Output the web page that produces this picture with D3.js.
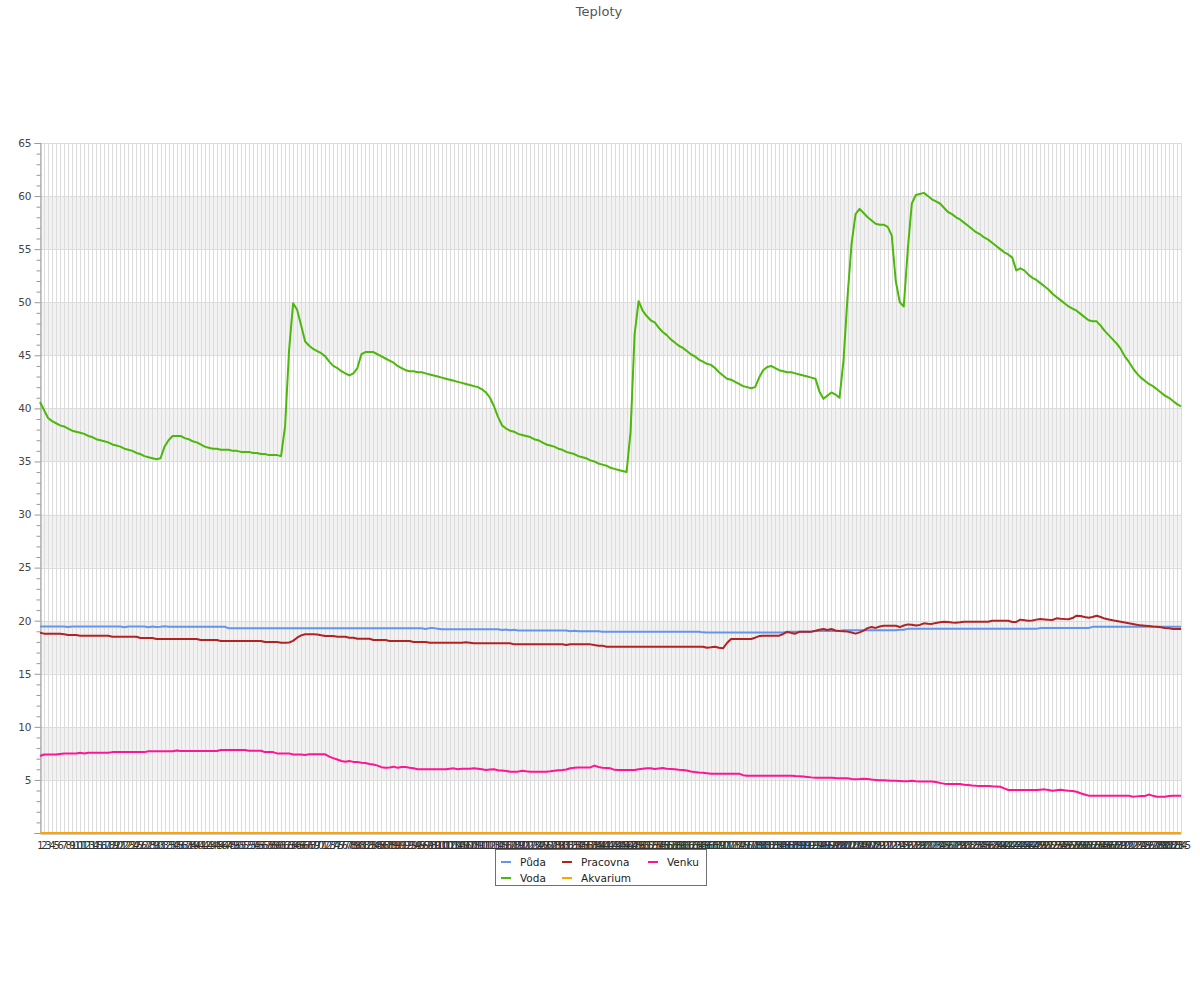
<!DOCTYPE html>
<html><head><meta charset="utf-8">
<script src="https://cdn.jsdelivr.net/npm/d3@7"></script>
<style>body{margin:0;background:#fff}svg{display:block}</style>
</head><body><svg id="c" width="1200" height="1000"></svg>
<script>
const title = "Teploty";
const categories = d3.range(1, 286).map(String);
const yTickValues = [5, 10, 15, 20, 25, 30, 35, 40, 45, 50, 55, 60, 65];
const seriesNames = ["Půda", "Voda", "Pracovna", "Akvarium", "Venku"];
const seriesColors = ["#6495ed", "#4cb80a", "#b22222", "#ffa500", "#ff1493"];

const puda = [
19.45,19.45,19.45,19.45,19.45,19.45,19.45,19.40,19.45,19.45,
19.45,19.45,19.45,19.45,19.45,19.45,19.45,19.45,19.45,19.45,
19.45,19.38,19.45,19.45,19.45,19.45,19.45,19.38,19.45,19.40,
19.42,19.48,19.43,19.43,19.43,19.43,19.43,19.43,19.43,19.43,
19.43,19.43,19.43,19.43,19.43,19.43,19.43,19.28,19.28,19.28,
19.28,19.28,19.28,19.28,19.28,19.28,19.28,19.28,19.28,19.28,
19.28,19.28,19.28,19.28,19.28,19.28,19.28,19.28,19.28,19.28,
19.28,19.28,19.28,19.28,19.28,19.28,19.28,19.28,19.28,19.28,
19.28,19.28,19.28,19.28,19.28,19.28,19.28,19.28,19.28,19.28,
19.28,19.28,19.28,19.28,19.28,19.28,19.22,19.30,19.30,19.25,
19.20,19.20,19.20,19.20,19.20,19.20,19.20,19.20,19.20,19.20,
19.20,19.20,19.20,19.20,19.20,19.12,19.18,19.10,19.15,19.08,
19.08,19.08,19.08,19.08,19.08,19.08,19.08,19.08,19.08,19.08,
19.08,19.08,19.00,19.05,19.00,19.00,19.00,19.00,19.00,19.00,
18.95,18.95,18.95,18.95,18.95,18.95,18.95,18.95,18.95,18.95,
18.95,18.95,18.95,18.95,18.95,18.95,18.95,18.95,18.95,18.95,
18.95,18.95,18.95,18.95,18.95,18.90,18.88,18.88,18.88,18.88,
18.88,18.88,18.88,18.88,18.88,18.88,18.88,18.88,18.88,18.88,
18.88,18.88,18.88,18.88,18.88,18.88,18.96,18.96,18.96,18.96,
18.96,18.96,18.96,19.02,19.02,19.02,19.02,19.02,19.02,19.02,
19.10,19.10,19.10,19.10,19.10,19.10,19.10,19.10,19.10,19.10,
19.10,19.10,19.10,19.10,19.15,19.15,19.23,19.23,19.23,19.23,
19.23,19.23,19.23,19.23,19.23,19.23,19.23,19.23,19.23,19.23,
19.23,19.23,19.23,19.23,19.23,19.23,19.23,19.23,19.23,19.23,
19.23,19.23,19.23,19.23,19.23,19.23,19.23,19.23,19.23,19.32,
19.32,19.32,19.32,19.32,19.32,19.32,19.32,19.32,19.32,19.32,
19.32,19.32,19.42,19.42,19.42,19.42,19.42,19.42,19.42,19.42,
19.42,19.42,19.42,19.42,19.42,19.42,19.42,19.42,19.42,19.42,
19.42,19.42,19.42,19.42,19.42];

const voda = [
40.6,39.85,39.1,38.8,38.6,38.4,38.3,38.1,37.9,37.8,
37.7,37.6,37.4,37.3,37.1,37.0,36.9,36.8,36.6,36.5,
36.4,36.2,36.1,36.0,35.8,35.7,35.5,35.4,35.3,35.2,
35.3,36.4,37.0,37.4,37.4,37.4,37.2,37.1,36.9,36.8,
36.6,36.4,36.3,36.2,36.2,36.1,36.1,36.1,36.0,36.0,
35.9,35.9,35.9,35.8,35.8,35.7,35.7,35.6,35.6,35.6,
35.5,38.3,45.5,49.9,49.3,47.8,46.3,45.9,45.6,45.4,
45.2,44.9,44.4,44.0,43.8,43.5,43.3,43.1,43.3,43.8,
45.1,45.3,45.3,45.3,45.1,44.9,44.7,44.5,44.3,44.0,
43.8,43.6,43.5,43.5,43.4,43.4,43.3,43.2,43.1,43.0,
42.9,42.8,42.7,42.6,42.5,42.4,42.3,42.2,42.1,42.0,
41.8,41.5,41.0,40.2,39.2,38.4,38.1,37.9,37.8,37.6,
37.5,37.4,37.3,37.1,37.0,36.8,36.6,36.5,36.4,36.2,
36.1,35.9,35.8,35.7,35.5,35.4,35.3,35.1,35.0,34.8,
34.7,34.6,34.4,34.3,34.2,34.1,34.0,37.8,47.0,50.1,
49.2,48.7,48.3,48.1,47.6,47.2,46.9,46.5,46.2,45.9,
45.7,45.4,45.1,44.9,44.6,44.4,44.2,44.1,43.8,43.4,
43.1,42.8,42.7,42.5,42.3,42.1,42.0,41.9,42.0,42.9,
43.6,43.9,44.0,43.8,43.6,43.5,43.4,43.4,43.3,43.2,
43.1,43.0,42.9,42.8,41.6,40.9,41.2,41.5,41.3,41.0,
44.5,50.5,55.5,58.3,58.8,58.4,58.0,57.7,57.4,57.3,
57.3,57.1,56.3,52.0,50.0,49.6,55.0,59.3,60.1,60.2,
60.3,60.0,59.7,59.5,59.3,58.9,58.5,58.3,58.0,57.8,
57.5,57.2,56.9,56.6,56.4,56.1,55.9,55.6,55.3,55.0,
54.7,54.5,54.2,53.0,53.2,53.0,52.6,52.3,52.1,51.8,
51.5,51.2,50.8,50.5,50.2,49.9,49.6,49.4,49.2,48.9,
48.6,48.3,48.2,48.2,47.8,47.3,46.9,46.5,46.1,45.6,
44.9,44.4,43.8,43.3,42.9,42.6,42.3,42.1,41.8,41.5,
41.2,41.0,40.7,40.4,40.2];

const pracovna = [
18.87,18.78,18.78,18.78,18.78,18.78,18.72,18.65,18.65,18.65,
18.59,18.59,18.59,18.59,18.59,18.59,18.59,18.59,18.49,18.49,
18.49,18.49,18.49,18.49,18.49,18.37,18.37,18.37,18.37,18.28,
18.28,18.28,18.28,18.28,18.28,18.28,18.28,18.28,18.28,18.28,
18.18,18.18,18.18,18.18,18.18,18.09,18.09,18.09,18.09,18.09,
18.09,18.09,18.09,18.09,18.09,18.09,18.00,18.00,18.00,18.00,
17.93,17.93,17.95,18.10,18.40,18.62,18.72,18.72,18.72,18.70,
18.62,18.55,18.55,18.55,18.49,18.49,18.49,18.40,18.40,18.30,
18.30,18.30,18.30,18.18,18.18,18.18,18.18,18.09,18.09,18.09,
18.09,18.09,18.09,18.00,18.00,18.00,18.00,17.93,17.93,17.93,
17.93,17.93,17.93,17.93,17.93,17.93,17.98,17.93,17.87,17.87,
17.87,17.87,17.87,17.87,17.87,17.87,17.87,17.87,17.77,17.77,
17.77,17.77,17.77,17.77,17.77,17.77,17.77,17.77,17.77,17.77,
17.77,17.72,17.77,17.77,17.77,17.77,17.77,17.77,17.70,17.65,
17.65,17.55,17.55,17.55,17.55,17.55,17.55,17.55,17.55,17.55,
17.55,17.55,17.55,17.55,17.55,17.55,17.55,17.55,17.55,17.55,
17.55,17.55,17.55,17.55,17.55,17.55,17.46,17.50,17.55,17.45,
17.40,17.90,18.28,18.28,18.28,18.28,18.28,18.28,18.40,18.55,
18.59,18.59,18.59,18.59,18.59,18.75,18.94,18.85,18.78,18.95,
18.97,18.97,18.97,19.05,19.15,19.22,19.12,19.22,19.08,19.03,
19.00,18.97,18.88,18.78,18.90,19.06,19.30,19.40,19.32,19.45,
19.53,19.53,19.53,19.53,19.40,19.55,19.65,19.62,19.55,19.60,
19.75,19.72,19.70,19.78,19.85,19.90,19.88,19.83,19.81,19.85,
19.90,19.90,19.90,19.90,19.90,19.90,19.90,20.00,20.00,20.00,
20.00,20.00,19.88,19.88,20.10,20.05,20.00,20.02,20.10,20.16,
20.12,20.08,20.07,20.22,20.18,20.15,20.13,20.25,20.47,20.44,
20.35,20.28,20.35,20.47,20.35,20.20,20.12,20.04,19.97,19.90,
19.83,19.76,19.69,19.62,19.56,19.53,19.50,19.46,19.43,19.38,
19.32,19.28,19.22,19.22,19.22];

const akvarium = [
0,0,0,0,0,0,0,0,0,0, 0,0,0,0,0,0,0,0,0,0, 0,0,0,0,0,0,0,0,0,0,
0,0,0,0,0,0,0,0,0,0, 0,0,0,0,0,0,0,0,0,0, 0,0,0,0,0,0,0,0,0,0,
0,0,0,0,0,0,0,0,0,0, 0,0,0,0,0,0,0,0,0,0, 0,0,0,0,0,0,0,0,0,0,
0,0,0,0,0,0,0,0,0,0, 0,0,0,0,0,0,0,0,0,0, 0,0,0,0,0,0,0,0,0,0,
0,0,0,0,0,0,0,0,0,0, 0,0,0,0,0,0,0,0,0,0, 0,0,0,0,0,0,0,0,0,0,
0,0,0,0,0,0,0,0,0,0, 0,0,0,0,0,0,0,0,0,0, 0,0,0,0,0,0,0,0,0,0,
0,0,0,0,0,0,0,0,0,0, 0,0,0,0,0,0,0,0,0,0, 0,0,0,0,0,0,0,0,0,0,
0,0,0,0,0,0,0,0,0,0, 0,0,0,0,0,0,0,0,0,0, 0,0,0,0,0,0,0,0,0,0,
0,0,0,0,0,0,0,0,0,0, 0,0,0,0,0,0,0,0,0,0, 0,0,0,0,0,0,0,0,0,0,
0,0,0,0,0,0,0,0,0,0, 0,0,0,0,0];

const venku = [
7.25,7.40,7.40,7.40,7.40,7.45,7.50,7.50,7.50,7.50,
7.55,7.48,7.55,7.55,7.55,7.55,7.55,7.55,7.62,7.62,
7.62,7.62,7.62,7.62,7.62,7.62,7.62,7.70,7.70,7.70,
7.70,7.70,7.70,7.70,7.78,7.72,7.72,7.72,7.72,7.72,
7.72,7.72,7.72,7.72,7.72,7.82,7.82,7.82,7.82,7.82,
7.82,7.82,7.75,7.75,7.75,7.75,7.62,7.62,7.62,7.50,
7.50,7.50,7.50,7.40,7.40,7.40,7.35,7.41,7.41,7.41,
7.41,7.41,7.20,7.05,6.92,6.78,6.72,6.78,6.70,6.70,
6.62,6.60,6.50,6.45,6.35,6.20,6.15,6.18,6.25,6.15,
6.22,6.22,6.15,6.10,6.00,6.00,6.00,6.00,6.00,6.00,
6.00,6.00,6.05,6.09,6.00,6.05,6.05,6.05,6.09,6.05,
6.00,5.93,5.98,6.00,5.92,5.88,5.84,5.78,5.78,5.78,
5.87,5.82,5.78,5.78,5.78,5.78,5.78,5.82,5.87,5.90,
5.93,5.98,6.10,6.15,6.18,6.18,6.18,6.18,6.35,6.22,
6.15,6.12,6.09,5.95,5.93,5.93,5.93,5.93,5.93,6.00,
6.05,6.09,6.09,6.03,6.08,6.12,6.05,6.03,6.00,5.96,
5.93,5.88,5.80,5.74,5.70,5.67,5.63,5.59,5.59,5.59,
5.59,5.59,5.59,5.59,5.59,5.45,5.40,5.40,5.40,5.40,
5.40,5.40,5.40,5.40,5.40,5.40,5.40,5.40,5.36,5.34,
5.32,5.28,5.24,5.21,5.21,5.21,5.21,5.21,5.17,5.15,
5.15,5.15,5.08,5.06,5.08,5.12,5.08,5.03,5.00,4.97,
4.97,4.95,4.93,4.92,4.90,4.88,4.87,4.93,4.88,4.85,
4.85,4.85,4.85,4.80,4.72,4.65,4.62,4.62,4.62,4.62,
4.55,4.52,4.48,4.45,4.43,4.43,4.43,4.40,4.38,4.36,
4.20,4.05,4.05,4.05,4.05,4.05,4.05,4.05,4.05,4.08,
4.11,4.05,3.98,4.03,4.08,4.02,3.98,3.96,3.88,3.74,
3.62,3.52,3.52,3.52,3.52,3.52,3.52,3.52,3.52,3.52,
3.52,3.52,3.42,3.45,3.48,3.49,3.62,3.50,3.42,3.42,
3.42,3.48,3.52,3.52,3.52];

const seriesData = [puda, voda, pracovna, akvarium, venku];

const svg = d3.select("#c");
const font = "DejaVu Sans, sans-serif";
const L = 40, R = 1181, T = 143, B = 833;
const x = d3.scalePoint().domain(categories).range([L, R]);
const y = d3.scaleLinear().domain([0, 65]).range([B, T]);

// title
svg.append("text").attr("x", 599).attr("y", 16).attr("text-anchor", "middle")
  .attr("font-family", font).attr("font-size", 13).attr("fill", "#555").text(title);

// alternating bands
const bandStarts = [5, 15, 25, 35, 45, 55];
svg.append("g").selectAll("rect").data(bandStarts).join("rect")
  .attr("x", L).attr("width", R - L)
  .attr("y", d => y(d + 5)).attr("height", d => y(d) - y(d + 5))
  .attr("fill", "#f2f2f2");

// vertical grid
svg.append("g").selectAll("line").data(categories).join("line")
  .attr("x1", d => Math.round(x(d)) + 0.5).attr("x2", d => Math.round(x(d)) + 0.5)
  .attr("y1", T).attr("y2", B).attr("stroke", "#dcdcdc").attr("stroke-width", 1);

// horizontal grid
svg.append("g").selectAll("line").data(yTickValues).join("line")
  .attr("x1", L).attr("x2", R)
  .attr("y1", d => Math.round(y(d)) + 0.5).attr("y2", d => Math.round(y(d)) + 0.5)
  .attr("stroke", "#dcdcdc");

// y axis
const yAxis = d3.axisLeft(y).tickValues([0].concat(yTickValues)).tickSize(6)
  .tickFormat(d => d === 0 ? "" : d);
const gy = svg.append("g").attr("transform", `translate(${L + 0.5},0)`).call(yAxis);
gy.select(".domain").attr("stroke", "#999");
gy.selectAll(".tick line").attr("stroke", "#999");
gy.selectAll(".tick text").attr("font-family", font).attr("font-size", 10.5).attr("fill", "#444").attr("x", -9);
const minor = d3.range(0, 66).filter(v => v % 5 !== 0);
const yMinor = d3.axisLeft(y).tickValues(minor).tickSize(4).tickFormat("");
const gm = svg.append("g").attr("transform", `translate(${L + 0.5},0)`).call(yMinor);
gm.select(".domain").remove();
gm.selectAll(".tick line").attr("stroke", "#999");

// x axis
const xAxis = d3.axisBottom(x).tickSize(0).tickPadding(8);
const gx = svg.append("g").attr("transform", `translate(0,${B + 0.5})`).call(xAxis);
gx.select(".domain").attr("stroke", "#999");
gx.selectAll(".tick text").attr("font-family", font).attr("font-size", 10).attr("fill", "#333");

// lines
const line = d3.line().x((d, i) => x(categories[i])).y(d => y(d));
svg.append("g").selectAll("path").data(seriesData).join("path")
  .attr("d", line).attr("fill", "none")
  .attr("stroke", (d, i) => seriesColors[i]).attr("stroke-width", 2)
  .attr("stroke-linejoin", "round");

// legend
const lg = svg.append("g");
lg.append("rect").attr("x", 495.5).attr("y", 849.5).attr("width", 211).attr("height", 36)
  .attr("fill", "#fff").attr("stroke", "#707070");
const colX = [500, 561, 647];
const rowY = [862, 878];
seriesNames.forEach((name, i) => {
  const col = Math.floor(i / 2), row = i % 2;
  lg.append("line").attr("x1", colX[col] + 1).attr("x2", colX[col] + 11)
    .attr("y1", rowY[row]).attr("y2", rowY[row])
    .attr("stroke", seriesColors[i]).attr("stroke-width", 2);
  lg.append("text").attr("x", colX[col] + 20).attr("y", rowY[row] + 3.5)
    .attr("font-family", font).attr("font-size", 10.5).attr("fill", "#222").text(name);
});
</script></body></html>
